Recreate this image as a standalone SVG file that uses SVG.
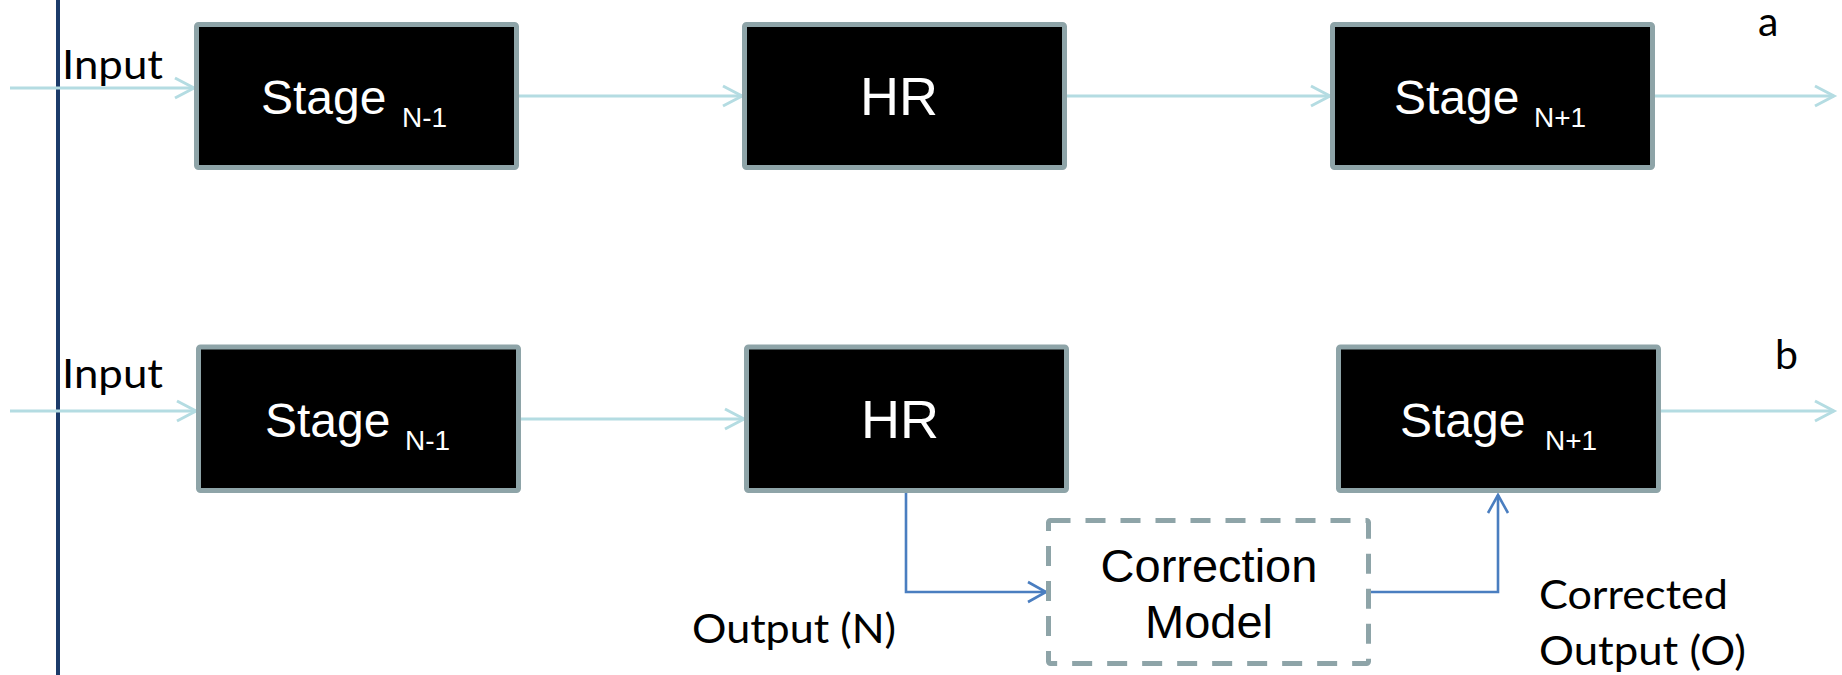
<svg xmlns="http://www.w3.org/2000/svg" width="1842" height="675" viewBox="0 0 1842 675">
  <style>
    .box { fill: #000000; stroke: #8EA4A8; stroke-width: 5; }
    .dbox { fill: #FFFFFF; stroke: #8EA4A8; stroke-width: 5; stroke-dasharray: 20 15; }
    .lt { fill: none; stroke: #B4DCE2; stroke-width: 3; }
    .bl { fill: none; stroke: #4A7EC0; stroke-width: 2.6; }
    .st { font-family: "Liberation Sans", Arial, sans-serif; font-size: 48px; fill: #FFFFFF; }
    .sub { font-family: "Liberation Sans", Arial, sans-serif; font-size: 28px; fill: #FFFFFF; }
    .hr { font-family: "Liberation Sans", Arial, sans-serif; font-size: 54px; fill: #FFFFFF; text-anchor: middle; }
    .cm { font-family: "Liberation Sans", Arial, sans-serif; font-size: 47px; fill: #000000; text-anchor: middle; }
    .lbl { font-family: Lato, "Open Sans", sans-serif; font-size: 41px; fill: #000000; }
  </style>
  <defs>
    <marker id="chevLt" markerUnits="userSpaceOnUse" viewBox="-22 -13 25 26" refX="0" refY="0" markerWidth="25" markerHeight="26" orient="auto" overflow="visible">
      <path d="M-19,-10 L0,0 L-19,10" fill="none" stroke="#B4DCE2" stroke-width="3"/>
    </marker>
    <marker id="chevBl" markerUnits="userSpaceOnUse" viewBox="-22 -13 25 26" refX="0" refY="0" markerWidth="25" markerHeight="26" orient="auto" overflow="visible">
      <path d="M-18,-10 L0,0 L-18,10" fill="none" stroke="#4A7EC0" stroke-width="2.6"/>
    </marker>
  </defs>

  <rect x="0" y="0" width="1842" height="675" fill="#FFFFFF"/>

  <!-- left separator rule -->
  <line x1="58" y1="0" x2="58" y2="675" stroke="#1C3B6A" stroke-width="4"/>

  <!-- connectors -->
  <g id="connectors">
    <!-- row a -->
    <line class="lt" x1="10" y1="88" x2="194" y2="88" marker-end="url(#chevLt)"/>
    <line class="lt" x1="519" y1="96" x2="742" y2="96" marker-end="url(#chevLt)"/>
    <line class="lt" x1="1067" y1="96" x2="1330" y2="96" marker-end="url(#chevLt)"/>
    <line class="lt" x1="1655" y1="96" x2="1834" y2="96" marker-end="url(#chevLt)"/>
    <!-- row b -->
    <line class="lt" x1="10" y1="411" x2="196" y2="411" marker-end="url(#chevLt)"/>
    <line class="lt" x1="521" y1="419" x2="744" y2="419" marker-end="url(#chevLt)"/>
    <line class="lt" x1="1654" y1="411" x2="1834" y2="411" marker-end="url(#chevLt)"/>
    <polyline class="bl" points="906,493 906,592 1046,592" marker-end="url(#chevBl)"/>
    <polyline class="bl" points="1371,592 1498,592 1498,495" marker-end="url(#chevBl)"/>
  </g>

  <!-- row a nodes -->
  <g id="a-stage-prev">
    <rect class="box" x="196.5" y="24.5" width="320" height="143" rx="2"/>
    <text class="st" x="261" y="114">Stage</text>
    <text class="sub" x="402" y="127">N-1</text>
  </g>
  <g id="a-hr">
    <rect class="box" x="744.5" y="24.5" width="320" height="143" rx="2"/>
    <text class="hr" x="899" y="115">HR</text>
  </g>
  <g id="a-stage-next">
    <rect class="box" x="1332.5" y="24.5" width="320" height="143" rx="2"/>
    <text class="st" x="1394" y="114">Stage</text>
    <text class="sub" x="1534" y="127">N+1</text>
  </g>
  <g id="a-labels">
    <text class="lbl" x="62" y="79" textLength="101" lengthAdjust="spacingAndGlyphs">Input</text>
    <text class="lbl" x="1758" y="36">a</text>
  </g>

  <!-- row b nodes -->
  <g id="b-stage-prev">
    <rect class="box" x="198.5" y="347" width="320" height="143.5" rx="2"/>
    <text class="st" x="265" y="437">Stage</text>
    <text class="sub" x="405" y="450">N-1</text>
  </g>
  <g id="b-hr">
    <rect class="box" x="746.5" y="347" width="320" height="143.5" rx="2"/>
    <text class="hr" x="900" y="438">HR</text>
  </g>
  <g id="b-stage-next">
    <rect class="box" x="1338.5" y="347" width="320" height="143.5" rx="2"/>
    <text class="st" x="1400" y="437">Stage</text>
    <text class="sub" x="1545" y="450">N+1</text>
  </g>
  <g id="b-correction">
    <rect class="dbox" x="1048.5" y="520.5" width="320" height="143" rx="2"/>
    <text class="cm" x="1209" y="582">Correction</text>
    <text class="cm" x="1209" y="638">Model</text>
  </g>
  <g id="b-labels">
    <text class="lbl" x="62" y="388" textLength="101" lengthAdjust="spacingAndGlyphs">Input</text>
    <text class="lbl" x="1775" y="369">b</text>
    <text class="lbl" x="692" y="643" textLength="204" lengthAdjust="spacingAndGlyphs">Output (N)</text>
    <text class="lbl" x="1539" y="609" textLength="189" lengthAdjust="spacingAndGlyphs">Corrected</text>
    <text class="lbl" x="1539" y="665" textLength="207" lengthAdjust="spacingAndGlyphs">Output (O)</text>
  </g>
</svg>
